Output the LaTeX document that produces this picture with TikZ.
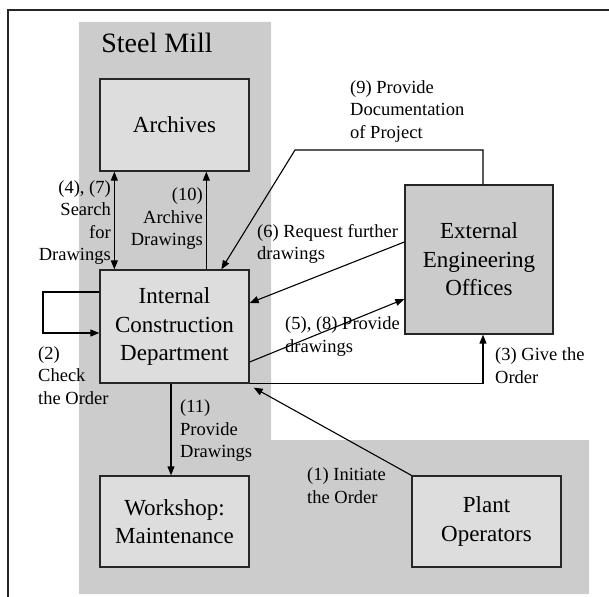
\documentclass[tikz,border=0pt]{standalone}
\usepackage{fontspec}
\setmainfont{Liberation Serif}
\usetikzlibrary{arrows.meta}
\definecolor{regiongray}{HTML}{CCCCCC}
\definecolor{boxgray}{HTML}{DDDDDD}
\definecolor{extgray}{HTML}{CBCBCB}
\begin{document}
\begin{tikzpicture}[x=1bp,y=-1bp,
  box/.style={draw=black!85, line width=1.3bp, fill=boxgray, inner sep=0pt,
    minimum width=149bp, align=center,
    font=\fontsize{23bp}{28.5bp}\selectfont},
  lbl/.style={inner sep=0pt, font=\fontsize{18.5bp}{22.5bp}\selectfont},
  arr/.style={line width=1.1bp, -{Triangle[length=9bp,width=7bp]}},
  darr/.style={line width=1.1bp, {Triangle[length=9bp,width=7bp]}-{Triangle[length=9bp,width=7bp]}}]
\useasboundingbox (0,0) rectangle (609,597);
% frame
\draw[line width=1.6bp, black!85] (8,597) -- (8,10) -- (609,10);
% steel mill region
\fill[regiongray] (79,22) -- (271,22) -- (271,440) -- (589,440) -- (589,594) -- (79,594) -- cycle;
\node[font=\fontsize{28bp}{30bp}\selectfont, inner sep=0pt] (title) at (157,43) {Steel Mill};
% boxes
\node[box, minimum height=92bp] (arch) at (174.5,125) {Archives};
\node[box, minimum height=113bp] (icd) at (174.5,326.5) {Internal\\Construction\\Department};
\node[box, minimum height=91bp] (work) at (174.5,521.5) {Workshop:\\Maintenance};
\node[box, minimum height=149bp, minimum width=148bp, fill=extgray] (ext) at (479,259.5) {External\\Engineering\\Offices};
\node[box, minimum height=91bp] (plant) at (486.5,521.5) {Plant\\Operators};
% connectors
\draw[darr] ([xshift=15bp]arch.south west) -- ([xshift=15bp]icd.north west);
\draw[arr] ([xshift=107bp]icd.north west) -- ([xshift=107bp]arch.south west);
\coordinate (k9) at (295,150);
\draw[arr] ([xshift=4bp]ext.north) |- (k9) -- ([xshift=122bp]icd.north west);
\draw[arr] ([yshift=17.5bp]ext.west) -- ([yshift=23.5bp]icd.east);
\draw[arr] ([yshift=-35.5bp]icd.east) -- ([yshift=-39.5bp]ext.west);
\draw[arr] (icd.south east) -| ([xshift=4bp]ext.south);
\draw[arr] (plant.north west) -- ([xshift=4bp,yshift=-4bp]icd.south east);
\coordinate (lp) at (43,333);
\draw[arr] ([yshift=34.5bp]icd.west) -| (lp) -- (lp -| icd.west);
\draw[arr] ([xshift=-3.5bp]icd.south) -- ([xshift=-3.5bp]work.north);
% labels
\node[lbl, align=right, anchor=east] (l47) at (111,222.5) {(4), (7)\\Search\\for\\Drawings};
\node[lbl, align=right, anchor=east] (l10) at (203,219) {(10)\\Archive\\Drawings};
\node[lbl, align=left, anchor=west] (l9) at (350,111.5) {(9) Provide\\Documentation\\of Project};
\node[lbl, align=left, anchor=west] (l6) at (257,244) {(6) Request further\\drawings};
\node[lbl, align=left, anchor=west] (l58) at (285,336.5) {(5), (8) Provide\\drawings};
\node[lbl, align=left, anchor=west] (l3) at (495,365.5) {(3) Give the\\Order};
\node[lbl, align=left, anchor=west] (l2) at (38,375.5) {(2)\\Check\\the Order};
\node[lbl, align=left, anchor=west] (l11) at (180,431) {(11)\\Provide\\Drawings};
\node[lbl, align=left, anchor=west] (l1) at (307,485.5) {(1) Initiate\\the Order};
\end{tikzpicture}
\end{document}
